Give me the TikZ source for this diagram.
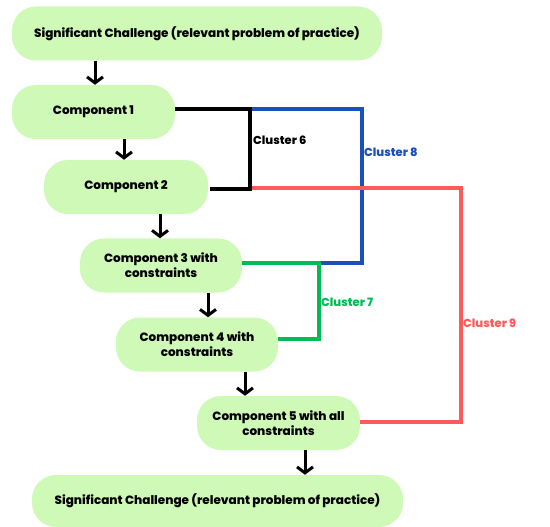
\documentclass[tikz,border=0pt]{standalone}
\usepackage{fontspec}
\setmainfont{Poppins}[UprightFont=* Bold, BoldFont=* ExtraBold]
\usetikzlibrary{arrows.meta}
\definecolor{boxgreen}{HTML}{CFF9B6}
\definecolor{cblue}{HTML}{1A4FBD}
\definecolor{cred}{HTML}{FF5A5A}
\definecolor{cgreen}{HTML}{00BC55}
\tikzset{
  comp/.style={fill=boxgreen, rounded corners=24pt, align=center,
    font=\bfseries\fontsize{12}{15}\selectfont, text=black,
    minimum height=54pt, inner sep=2pt},
  flow/.style={draw=black, line width=3pt,
    -{Straight Barb[length=6pt,width=16pt,line width=3pt]}},
  link/.style={line width=3.4pt},
  clabel/.style={anchor=west, inner sep=0pt, font=\bfseries\fontsize{11.5}{13}\selectfont}
}
\begin{document}
\begin{tikzpicture}[x=1pt,y=-1pt]
\useasboundingbox (0,0) rectangle (550,527);

% process steps
\node[comp, minimum width=370pt] (top) at (197,33.5) {Significant Challenge (relevant problem of practice)};
\node[comp, minimum width=163pt] (c1) at (93.5,112) {Component 1};
\node[comp, minimum width=164pt] (c2) at (126,187) {Component 2};
\node[comp, minimum width=162pt] (c3) at (161,265.5) {Component 3 with\\constraints};
\node[comp, minimum width=162pt] (c4) at (197,344.5) {Component 4 with\\constraints};
\node[comp, minimum width=163pt] (c5) at (278.5,423) {Component 5 with all\\constraints};
\node[comp, minimum width=371pt, minimum height=52pt] (bot) at (217.5,501) {Significant Challenge (relevant problem of practice)};

% downward flow
\draw[flow] (top.south -| 95,0) -- (c1.north -| 95,0);
\draw[flow] (c1.south -| 124,0) -- (c2.north -| 124,0);
\draw[flow] (c2.south -| 160,0) -- (c3.north -| 160,0);
\draw[flow] (c3.south -| 208,0) -- (c4.north -| 208,0);
\draw[flow] (c4.south -| 245,0) -- (c5.north -| 245,0);
\draw[flow] (c5.south -| 305,0) -- (bot.north -| 305,0);

% cluster junctions
\coordinate (k6a) at (250,109);
\coordinate (k6b) at (250,189);
\coordinate (k8a) at (362,109);
\coordinate (k8b) at (362,263);
\coordinate (k7a) at (319,263);
\coordinate (k7b) at (319,339);
\coordinate (k9a) at (461,188);
\coordinate (k9b) at (461,422);

% cluster 8
\draw[link, cblue] (k6a) -- (k8a) -- (k8b) -- (k7a);
% cluster 9
\draw[link, cred] (k6b |- k9a) -- (k9a) -- (k9b) -- (c5.east |- k9b);
% cluster 7
\draw[link, cgreen] (c3.east |- k7a) -- (k7a) -- (k7b) -- (c4.east |- k7b);
% cluster 6
\draw[link, black] (c1.east |- k6a) -- (k6a) -- (k6b) -- ([xshift=2pt]c2.east |- k6b);

% cluster labels
\node[clabel, text=black] (l6) at (253,140) {Cluster 6};
\node[clabel, text=cblue] (l8) at (364,152) {Cluster 8};
\node[clabel, text=cgreen] (l7) at (321,302) {Cluster 7};
\node[clabel, text=cred] (l9) at (463,323) {Cluster 9};
\end{tikzpicture}
\end{document}
